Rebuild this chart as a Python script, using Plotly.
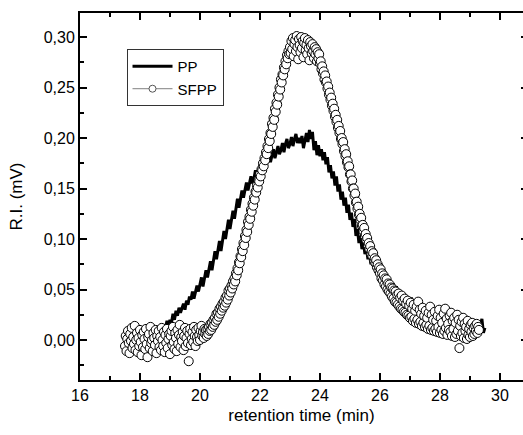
import numpy as np
import plotly.graph_objects as go

# ---- data ----
sfpp_t0, sfpp_dt = 17.50, 0.025
sfpp_vals = [
    # baseline 17.500 - 20.200
    -0.006, 0.004, -0.011, 0.001, 0.009, -0.003, -0.013, 0.006, -0.001, 0.012,
    -0.008, 0.003, -0.004, 0.014, -0.010, 0.000, 0.007, -0.012, 0.002, -0.006,
    0.010, -0.002, -0.015, 0.005, -0.007, 0.008, 0.001, -0.009, 0.011, -0.004,
    -0.017, 0.003, 0.006, -0.008, 0.013, -0.003, 0.000, -0.011, 0.007, 0.002,
    -0.005, 0.010, -0.013, 0.004, -0.001, 0.009, -0.007, 0.003, -0.010, 0.012,
    0.000, -0.006, 0.008, -0.012, 0.005, -0.003, 0.011, -0.008, 0.001, 0.006,
    -0.014, 0.004, 0.009, -0.005, 0.013, -0.002, -0.009, 0.007, 0.002, -0.011,
    0.010, -0.004, 0.005, 0.015, -0.007, 0.003, -0.001, 0.008, -0.010, 0.004,
    0.012, -0.006, 0.002, 0.009, -0.003, -0.021, 0.006, 0.011, -0.005, 0.001,
    0.008, -0.002, 0.013, 0.004, -0.006, 0.010, 0.003, -0.001, 0.012, 0.005,
    0.000, 0.009, 0.014, 0.004, 0.008, 0.002, 0.011, 0.006, 0.010,
    # rise 20.225 - 22.975
    0.004, 0.011, 0.006, 0.013, 0.009, 0.016, 0.010, 0.017,
    0.013, 0.020, 0.015, 0.022, 0.018, 0.026, 0.020, 0.027,
    0.023, 0.031, 0.026, 0.033, 0.029, 0.036, 0.032, 0.038,
    0.034, 0.042, 0.037, 0.044, 0.040, 0.049, 0.044, 0.051,
    0.047, 0.054, 0.051, 0.058, 0.055, 0.061, 0.058, 0.066,
    0.064, 0.071, 0.069, 0.077, 0.076, 0.083, 0.082, 0.090,
    0.088, 0.096, 0.094, 0.103, 0.101, 0.109, 0.107, 0.117,
    0.114, 0.122, 0.120, 0.129, 0.127, 0.135, 0.133, 0.141,
    0.139, 0.147, 0.146, 0.153, 0.151, 0.158, 0.157, 0.164,
    0.162, 0.169, 0.168, 0.175, 0.172, 0.180, 0.178, 0.186,
    0.184, 0.192, 0.190, 0.199, 0.197, 0.205, 0.204, 0.214,
    0.211, 0.220, 0.218, 0.229, 0.226, 0.235, 0.233, 0.243,
    0.241, 0.250, 0.248, 0.258, 0.255, 0.263, 0.262, 0.270,
    0.268, 0.276, 0.273, 0.282, 0.279, 0.286, 0.283,
    # peak 23.000 - 24.000
    0.290, 0.284, 0.296, 0.288, 0.299, 0.281, 0.293, 0.297,
    0.286, 0.301, 0.290, 0.278, 0.298, 0.292, 0.285, 0.300,
    0.289, 0.296, 0.280, 0.294, 0.299, 0.287, 0.292, 0.283,
    0.297, 0.289, 0.277, 0.295, 0.291, 0.284, 0.293, 0.286,
    0.279, 0.290, 0.283, 0.288, 0.276, 0.285, 0.279, 0.283,
    0.274,
    # descent 24.025 - 26.000
    0.276, 0.268, 0.271, 0.264, 0.266, 0.258, 0.262, 0.255,
    0.256, 0.249, 0.251, 0.243, 0.245, 0.238, 0.240, 0.232,
    0.234, 0.227, 0.229, 0.221, 0.223, 0.216, 0.218, 0.210,
    0.212, 0.205, 0.207, 0.199, 0.200, 0.194, 0.196, 0.187,
    0.189, 0.182, 0.184, 0.176, 0.177, 0.171, 0.172, 0.164,
    0.164, 0.157, 0.158, 0.150, 0.150, 0.143, 0.145, 0.136,
    0.137, 0.130, 0.132, 0.124, 0.125, 0.119, 0.121, 0.113,
    0.114, 0.108, 0.111, 0.103, 0.105, 0.099, 0.101, 0.094,
    0.096, 0.090, 0.093, 0.086, 0.088, 0.083, 0.086, 0.079,
    0.081, 0.076, 0.079, 0.072, 0.075, 0.069, 0.072, 0.066,
    # tail 26.025 - 29.300
    0.070, 0.061, 0.066, 0.059, 0.064, 0.055, 0.061, 0.053,
    0.060, 0.050, 0.056, 0.048, 0.055, 0.046, 0.052, 0.043,
    0.051, 0.041, 0.049, 0.038, 0.048, 0.037, 0.045, 0.035,
    0.046, 0.033, 0.042, 0.031, 0.044, 0.030, 0.039, 0.028,
    0.041, 0.027, 0.036, 0.025, 0.039, 0.024, 0.034, 0.022,
    0.037, 0.023, 0.031, 0.019, 0.035, 0.021, 0.029, 0.017,
    0.033, 0.020, 0.038, 0.016, 0.030, 0.018, 0.026, 0.014,
    0.032, 0.017, 0.024, 0.013, 0.029, 0.015, 0.022, 0.011,
    0.027, 0.014, 0.033, 0.010, 0.025, 0.012, 0.020, 0.009,
    0.028, 0.011, 0.019, 0.008, 0.024, 0.013, 0.030, 0.007,
    0.022, 0.010, 0.017, 0.006, 0.026, 0.009, 0.031, 0.012,
    0.021, 0.005, 0.016, 0.010, 0.024, 0.008, 0.027, 0.004,
    0.019, 0.011, 0.022, 0.003, 0.017, 0.006, 0.025, 0.009,
    0.020, -0.008, 0.014, 0.004, 0.018, 0.007, 0.022, 0.002,
    0.016, 0.009, 0.013, 0.001, 0.019, 0.005, 0.011, 0.003,
    0.015, 0.008, 0.017, 0.004, 0.012, 0.006, 0.014, 0.009,
    0.016, 0.007, 0.013, 0.010,
]

pp_t0, pp_dt = 18.20, 0.05
pp_vals = [
    0.009, 0.013, 0.010, 0.012, 0.008, 0.011,
    0.013, 0.010, 0.012, 0.009, 0.014, 0.011,
    0.015, 0.012, 0.019, 0.014, 0.020, 0.017,
    0.026, 0.020, 0.029, 0.024, 0.032, 0.027,
    0.031, 0.036, 0.030, 0.039, 0.035, 0.043,
    0.040, 0.048, 0.041, 0.047, 0.054, 0.048,
    0.055, 0.062, 0.053, 0.061, 0.069, 0.062,
    0.070, 0.078, 0.069, 0.078, 0.088, 0.080,
    0.089, 0.098, 0.088, 0.098, 0.108, 0.100,
    0.109, 0.119, 0.110, 0.118, 0.128, 0.120,
    0.131, 0.140, 0.131, 0.139, 0.148, 0.141,
    0.147, 0.156, 0.148, 0.154, 0.162, 0.155,
    0.160, 0.168, 0.161, 0.166, 0.173, 0.166,
    0.171, 0.179, 0.172, 0.177, 0.183, 0.176,
    0.182, 0.189, 0.180, 0.187, 0.192, 0.184,
    0.188, 0.195, 0.186, 0.194, 0.199, 0.190,
    0.194, 0.201, 0.192, 0.199, 0.204, 0.195,
    0.200, 0.195, 0.202, 0.190, 0.198, 0.205,
    0.196, 0.208, 0.199, 0.206, 0.188, 0.197,
    0.183, 0.193, 0.182, 0.189, 0.178, 0.186,
    0.174, 0.181, 0.166, 0.173, 0.160, 0.167,
    0.153, 0.162, 0.147, 0.154, 0.139, 0.147,
    0.133, 0.141, 0.126, 0.134, 0.119, 0.126,
    0.112, 0.120, 0.103, 0.110, 0.096, 0.103,
    0.090, 0.097, 0.085, 0.091, 0.080, 0.086,
    0.075, 0.082, 0.071, 0.077, 0.067, 0.073,
    0.065, 0.068, 0.061, 0.064, 0.058, 0.061,
    0.055, 0.058, 0.052, 0.056, 0.049, 0.053,
    0.047, 0.050, 0.044, 0.047, 0.042, 0.045,
    0.040, 0.043, 0.038, 0.042, 0.036, 0.040,
    0.034, 0.038, 0.033, 0.036, 0.031, 0.035,
    0.030, 0.033, 0.029, 0.032, 0.027, 0.031,
    0.026, 0.029, 0.025, 0.028, 0.024, 0.027,
    0.023, 0.026, 0.022, 0.025, 0.021, 0.024,
    0.020, 0.023, 0.019, 0.022, 0.018, 0.021,
    0.017, 0.020, 0.016, 0.019, 0.015, 0.018,
    0.014, 0.017, 0.013, 0.016, 0.012, 0.015,
    0.011, 0.014, 0.021, 0.007, 0.012,
]

sfpp_t = np.round(sfpp_t0 + sfpp_dt * np.arange(len(sfpp_vals)), 3)
pp_t = np.round(pp_t0 + pp_dt * np.arange(len(pp_vals)), 3)

x_range = [16, 30.77]
y_range = [-0.0396, 0.3238]
x_ticks = [16, 18, 20, 22, 24, 26, 28, 30]
y_ticks = [0.00, 0.05, 0.10, 0.15, 0.20, 0.25, 0.30]

FONT = "Liberation Sans, Arial, sans-serif"

fig = go.Figure()
fig.add_trace(go.Scatter(x=pp_t, y=pp_vals, mode="lines", name="PP",
                         line=dict(color="black", width=3), showlegend=False))
fig.add_trace(go.Scatter(x=sfpp_t, y=sfpp_vals, mode="markers", name="SFPP",
                         marker=dict(symbol="circle", size=9, color="white",
                                     line=dict(color="black", width=1)),
                         showlegend=False))
# legend entries
fig.add_trace(go.Scatter(x=[None], y=[None], mode="lines", name="PP",
                         line=dict(color="black", width=3)))
fig.add_trace(go.Scatter(x=[None], y=[None], mode="lines+markers", name="SFPP",
                         line=dict(color="#808080", width=1),
                         marker=dict(symbol="circle", size=7, color="white",
                                     line=dict(color="#555555", width=1))))
# right-hand tick axis (ticks only)
fig.add_trace(go.Scatter(x=[None], y=[None], yaxis="y2", showlegend=False))

axis_common = dict(ticks="inside", ticklen=7, tickwidth=2, tickcolor="black",
                   showgrid=False, zeroline=False,
                   tickfont=dict(family=FONT, size=16, color="black"))

fig.update_layout(
    width=523, height=435,
    margin=dict(l=80, r=0, t=13, b=55),
    paper_bgcolor="white", plot_bgcolor="white",
    separators=",.",
    font=dict(family=FONT, size=16, color="black"),
    xaxis=dict(range=x_range, tickvals=x_ticks, showline=True, linewidth=2,
               linecolor="black", mirror="ticks",
               minor=dict(ticks="inside", ticklen=4, tickwidth=2, tickcolor="black",
                          dtick=1, tick0=16),
               title=dict(text="retention time (min)", font=dict(family=FONT, size=17),
                          standoff=6),
               **axis_common),
    yaxis=dict(range=y_range, tickvals=y_ticks, tickformat=".2f", showline=True,
               linewidth=2, linecolor="black", mirror=False,
               minor=dict(ticks="inside", ticklen=4, tickwidth=2, tickcolor="black",
                          dtick=0.025, tick0=0),
               title=dict(text="R.I. (mV)", font=dict(family=FONT, size=17),
                          standoff=17),
               **axis_common),
    yaxis2=dict(range=y_range, overlaying="y", side="right", tickvals=y_ticks,
                showticklabels=False, showline=False, showgrid=False, zeroline=False,
                ticks="inside", ticklen=2, tickwidth=2, tickcolor="black"),
    legend=dict(x=0.105, y=0.902, xanchor="left", yanchor="top",
                bordercolor="#333333", borderwidth=1, bgcolor="white",
                font=dict(family=FONT, size=15), itemwidth=40,
                tracegroupgap=0),
    showlegend=True,
)

fig.write_html("out.html")
